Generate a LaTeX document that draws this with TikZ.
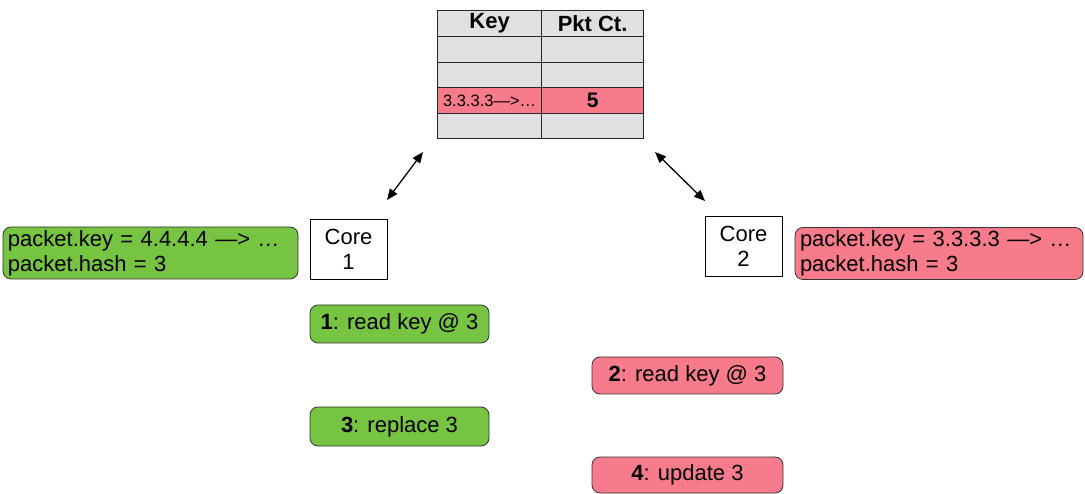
\documentclass[tikz,border=0pt]{standalone}
\usepackage{fontspec}
\setmainfont{Liberation Sans}
\usetikzlibrary{arrows.meta}
\definecolor{cellgray}{HTML}{E0E0E0}
\definecolor{hitred}{HTML}{F77B8A}
\definecolor{coregreen}{HTML}{76C442}
\tikzset{
  cell/.style={draw=black!85, line width=1.2pt, fill=cellgray, inner sep=0pt,
    anchor=north west, minimum height=26pt},
  keycol/.style={cell, minimum width=104pt},
  cntcol/.style={cell, minimum width=102pt},
  head/.style={font=\fontsize{22}{24}\bfseries},
  txt/.style={font=\fontsize{22}{25}\selectfont},
  corebox/.style={draw=black, line width=0.8pt, fill=white, txt, align=center,
    minimum width=77pt, minimum height=60pt, inner sep=0pt},
  pktbox/.style={draw=black!80, line width=0.8pt, rounded corners=8pt, txt,
    align=left, inner xsep=5pt, inner ysep=0pt, minimum height=52pt},
  stepbox/.style={draw=black!80, line width=0.8pt, rounded corners=8pt, txt,
    align=center, inner sep=0pt, minimum height=38pt},
  dbl/.style={line width=1.3pt,
    {Triangle[length=11pt,width=9pt]}-{Triangle[length=11pt,width=9pt]}}
}
\begin{document}
\begin{tikzpicture}[x=1pt,y=-1pt]
\useasboundingbox (0,0) rectangle (1085,494);

% hash table
\node[keycol, head] (k0) at (437,10) {Key};
\node[cntcol, head] (c0) at (541,10) {Pkt Ct.};
\node[keycol] (k1) at (437,36) {};
\node[cntcol] (c1) at (541,36) {};
\node[keycol, minimum height=25pt] (k2) at (437,62) {};
\node[cntcol, minimum height=25pt] (c2) at (541,62) {};
\node[keycol, fill=hitred, font=\fontsize{16.5}{18}\selectfont] (k3) at (437,87) {3.3.3.3—>…};
\node[cntcol, fill=hitred, font=\fontsize{21}{23}\bfseries] (c3) at (541,87) {5};
\node[keycol, minimum height=25pt] (k4) at (437,113) {};
\node[cntcol, minimum height=25pt] (c4) at (541,113) {};

% cores
\node[corebox] (core1) at (348.5,249) {Core\\1};
\node[corebox] (core2) at (743.5,246) {Core\\2};

% packets
\node[pktbox, fill=coregreen, minimum width=295pt, text width=285pt] (pkt1) at (150.5,253)
  {packet.key = 4.4.4.4 —> …\\packet.hash = 3};
\node[pktbox, fill=hitred, minimum width=288pt, text width=278pt] (pkt2) at (939,253.5)
  {packet.key = 3.3.3.3 —> …\\packet.hash = 3};

% operation steps
\node[stepbox, fill=coregreen, minimum width=179pt] (s1) at (399.5,324) {\textbf{1}: read key @ 3};
\node[stepbox, fill=hitred, minimum width=191pt, minimum height=37pt] (s2) at (687.5,375.5) {\textbf{2}: read key @ 3};
\node[stepbox, fill=coregreen, minimum width=179pt, minimum height=39pt] (s3) at (399.5,426.5) {\textbf{3}: replace 3};
\node[stepbox, fill=hitred, minimum width=191pt, minimum height=36pt] (s4) at (687.5,475) {\textbf{4}: update 3};

% table access arrows
\coordinate (a1) at (387,200);
\coordinate (a2) at (423,152);
\coordinate (b1) at (655,152);
\coordinate (b2) at (705,201);
\draw[dbl] (a1) -- (a2);
\draw[dbl] (b1) -- (b2);
\end{tikzpicture}
\end{document}
